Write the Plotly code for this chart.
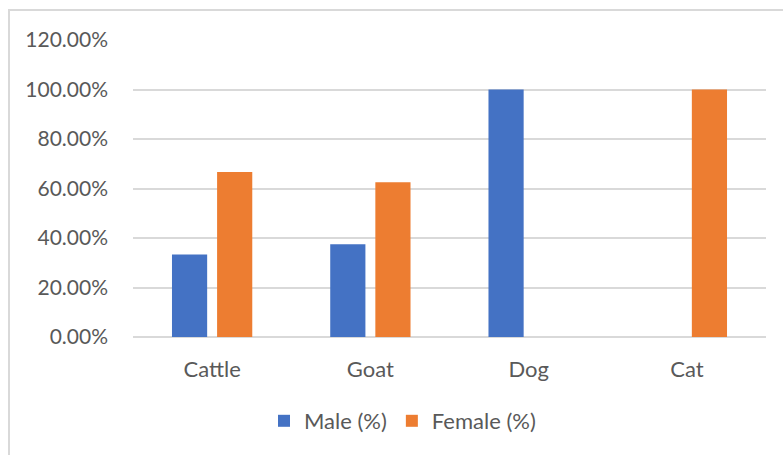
import plotly.graph_objects as go

categories = ["Cattle", "Goat", "Dog", "Cat"]
male_pct = [33.33, 37.5, 100.0, 0.0]
female_pct = [66.67, 62.5, 0.0, 100.0]
tick_vals = [0, 20, 40, 60, 80, 100, 120]
tick_text = ["0.00%", "20.00%", "40.00%", "60.00%", "80.00%", "100.00%", "120.00%"]

W, H = 783, 455
L, R, T, B = 133, 17, 40, 118
pw, ph = W - L - R, H - T - B

FONT = "Lato"
TXT = "#595959"

fig = go.Figure()
fig.add_trace(go.Bar(name="Male (%)", x=categories, y=male_pct, marker_color="#4472C4",
                     marker_line_width=0))
fig.add_trace(go.Bar(name="Female (%)", x=categories, y=female_pct, marker_color="#ED7D31",
                     marker_line_width=0))

fig.update_layout(
    width=W, height=H,
    margin=dict(l=L, r=R, t=T, b=B, pad=0),
    paper_bgcolor="white", plot_bgcolor="white",
    barmode="group", bargap=0.43, bargroupgap=0.22,
    font=dict(family=FONT, size=21, color=TXT),
    showlegend=True,
    legend=dict(orientation="h", x=(264 - L) / pw, xanchor="left",
                y=(337 - 421) / ph, yanchor="middle",
                font=dict(family=FONT, size=22, color=TXT),
                itemwidth=30, traceorder="normal", bgcolor="rgba(0,0,0,0)"),
    xaxis=dict(showgrid=False, showline=False, ticks="", zeroline=False,
               tickfont=dict(family=FONT, size=22, color=TXT), ticklabelstandoff=17),
    yaxis=dict(range=[0, 120], tickvals=tick_vals, ticktext=tick_text,
               showgrid=True, gridcolor="#d9d9d9", gridwidth=2,
               zeroline=True, zerolinecolor="#d9d9d9", zerolinewidth=2,
               showline=False, ticks="", ticklabelstandoff=24,
               tickfont=dict(family=FONT, size=21, color=TXT)),
)

# chart area frame (partially visible, extends past the right/bottom edges)
fig.add_shape(type="rect", xref="paper", yref="paper",
              x0=(9 - L) / pw, x1=(800 - L) / pw,
              y0=(T + ph - 470) / ph, y1=(T + ph - 10) / ph,
              line=dict(color="#d9d9d9", width=2), fillcolor="rgba(0,0,0,0)", layer="below")

fig.write_html("out.html")
